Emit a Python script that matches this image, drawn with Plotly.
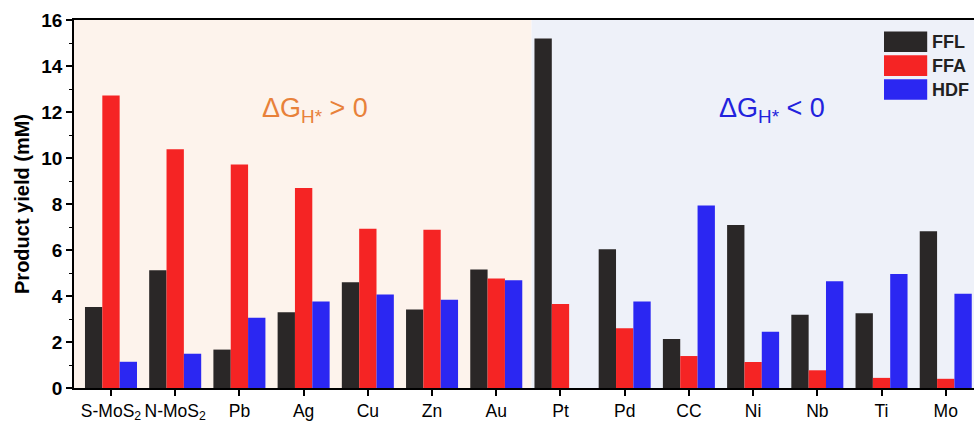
import plotly.graph_objects as go

categories = ["S-MoS<sub>2</sub>", "N-MoS<sub>2</sub>", "Pb", "Ag", "Cu", "Zn", "Au",
              "Pt", "Pd", "CC", "Ni", "Nb", "Ti", "Mo"]
series_names = ["FFL", "FFA", "HDF"]
ffl = [3.52, 5.12, 1.67, 3.29, 4.60, 3.41, 5.15, 15.20, 6.03, 2.13, 7.09, 3.18, 3.25, 6.82]
ffa = [12.72, 10.38, 9.72, 8.70, 6.92, 6.88, 4.76, 3.65, 2.60, 1.39, 1.13, 0.77, 0.44, 0.40]
hdf = [1.14, 1.49, 3.05, 3.76, 4.06, 3.84, 4.68, 0.0, 3.76, 7.93, 2.45, 4.64, 4.96, 4.10]
colors = ["#2a2727", "#f52424", "#2b27f2"]

FONT = "Liberation Sans, Arial, sans-serif"
xidx = list(range(len(categories)))
fig = go.Figure()
for name, vals, col in zip(series_names, [ffl, ffa, hdf], colors):
    fig.add_trace(go.Bar(x=xidx, y=vals, name=name, marker_color=col,
                         marker_line_width=0, showlegend=False))

x0, x1 = -0.576, 13.44
split = 6.55
shapes = [
    dict(type="rect", xref="x", yref="paper", x0=x0, x1=split, y0=0, y1=1,
         fillcolor="#fdf3ec", line_width=0, layer="below"),
    dict(type="rect", xref="x", yref="paper", x0=split, x1=x1, y0=0, y1=1,
         fillcolor="#eef1f9", line_width=0, layer="below"),
]
annotations = [
    dict(x=3.18, y=12.1, xref="x", yref="y", text="ΔG<sub>H*</sub> &gt; 0",
         showarrow=False, font=dict(family=FONT, size=27, color="#e8813a")),
    dict(x=10.3, y=12.1, xref="x", yref="y", text="ΔG<sub>H*</sub> &lt; 0",
         showarrow=False, font=dict(family=FONT, size=27, color="#2222dd")),
]
# legend (custom large swatches)
leg_y = [0.941, 0.876, 0.811]
for name, col, yy in zip(series_names, colors, leg_y):
    shapes.append(dict(type="rect", xref="paper", yref="paper",
                       x0=0.900, x1=0.948, y0=yy - 0.028, y1=yy + 0.028,
                       fillcolor=col, line_width=0))
    annotations.append(dict(x=0.951, y=yy, xref="paper", yref="paper", text=name,
                            showarrow=False, xanchor="left", yanchor="middle",
                            font=dict(family=FONT, size=18, color="#222222", weight="bold")))

fig.update_layout(
    width=974, height=421,
    margin=dict(l=74, r=0, t=20, b=33),
    paper_bgcolor="white", plot_bgcolor="white",
    barmode="group", bargap=0.19, bargroupgap=0,
    shapes=shapes, annotations=annotations,
    xaxis=dict(range=[x0, x1], tickmode="array", tickvals=xidx, ticktext=categories,
               tickangle=0, automargin=False,
               showline=True, linecolor="black", linewidth=1.5, mirror=True,
               ticks="outside", ticklen=6, tickwidth=1.5, tickcolor="black",
               showgrid=False, zeroline=False,
               tickfont=dict(family=FONT, size=17.5, color="black")),
    yaxis=dict(range=[0, 16], dtick=2, showline=True, linecolor="black", linewidth=1.5,
               automargin=False,
               ticks="outside", ticklen=6, tickwidth=1.5, tickcolor="black",
               minor=dict(dtick=1, ticks="outside", ticklen=3, tickwidth=1.2, tickcolor="black"),
               showgrid=False, zeroline=False,
               tickfont=dict(family=FONT, size=19, color="black", weight="bold"),
               title=dict(text="Product yield (mM)", standoff=6,
                          font=dict(family=FONT, size=20, color="black", weight="bold"))),
)
fig.write_html("out.html")
